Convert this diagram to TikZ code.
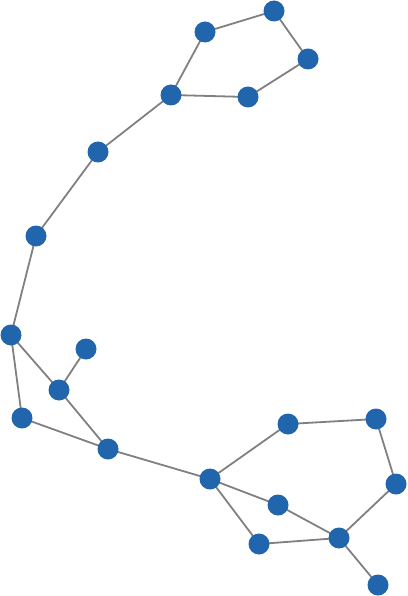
\documentclass[tikz,border=0pt]{standalone}
\usetikzlibrary{backgrounds}
\definecolor{nodeblue}{HTML}{2166AC}
\definecolor{edgegray}{HTML}{808080}
\tikzset{
  vert/.style={circle, fill=nodeblue, draw=none, minimum size=21pt, inner sep=0pt},
  edge/.style={draw=edgegray, line width=1.8pt}
}
\begin{document}
\begin{tikzpicture}[x=1pt,y=-1pt]
\useasboundingbox (0,0) rectangle (407,596);
\node[vert] (n1) at (274,11) {};
\node[vert] (n2) at (205,32) {};
\node[vert] (n3) at (308,59) {};
\node[vert] (n4) at (171,95) {};
\node[vert] (n5) at (248,97) {};
\node[vert] (n6) at (98,152) {};
\node[vert] (n7) at (36,236) {};
\node[vert] (n8) at (11,335) {};
\node[vert] (n9) at (86,349) {};
\node[vert] (n10) at (59,390) {};
\node[vert] (n11) at (22,418) {};
\node[vert] (n12) at (108,449) {};
\node[vert] (n13) at (288,424) {};
\node[vert] (n14) at (376,419) {};
\node[vert] (n15) at (210,479) {};
\node[vert] (n16) at (396,484) {};
\node[vert] (n17) at (278,505) {};
\node[vert] (n18) at (339,538) {};
\node[vert] (n19) at (259,544) {};
\node[vert] (n20) at (378,585) {};
\begin{pgfonlayer}{background}
\draw[edge] (n2.center) -- (n1.center);
\draw[edge] (n1.center) -- (n3.center);
\draw[edge] (n3.center) -- (n5.center);
\draw[edge] (n5.center) -- (n4.center);
\draw[edge] (n4.center) -- (n2.center);
\draw[edge] (n4.center) -- (n6.center);
\draw[edge] (n6.center) -- (n7.center);
\draw[edge] (n7.center) -- (n8.center);
\draw[edge] (n8.center) -- (n10.center);
\draw[edge] (n8.center) -- (n11.center);
\draw[edge] (n9.center) -- (n10.center);
\draw[edge] (n10.center) -- (n12.center);
\draw[edge] (n11.center) -- (n12.center);
\draw[edge] (n12.center) -- (n15.center);
\draw[edge] (n15.center) -- (n13.center);
\draw[edge] (n13.center) -- (n14.center);
\draw[edge] (n14.center) -- (n16.center);
\draw[edge] (n16.center) -- (n18.center);
\draw[edge] (n15.center) -- (n17.center);
\draw[edge] (n17.center) -- (n18.center);
\draw[edge] (n15.center) -- (n19.center);
\draw[edge] (n19.center) -- (n18.center);
\draw[edge] (n18.center) -- (n20.center);
\end{pgfonlayer}
\end{tikzpicture}
\end{document}
